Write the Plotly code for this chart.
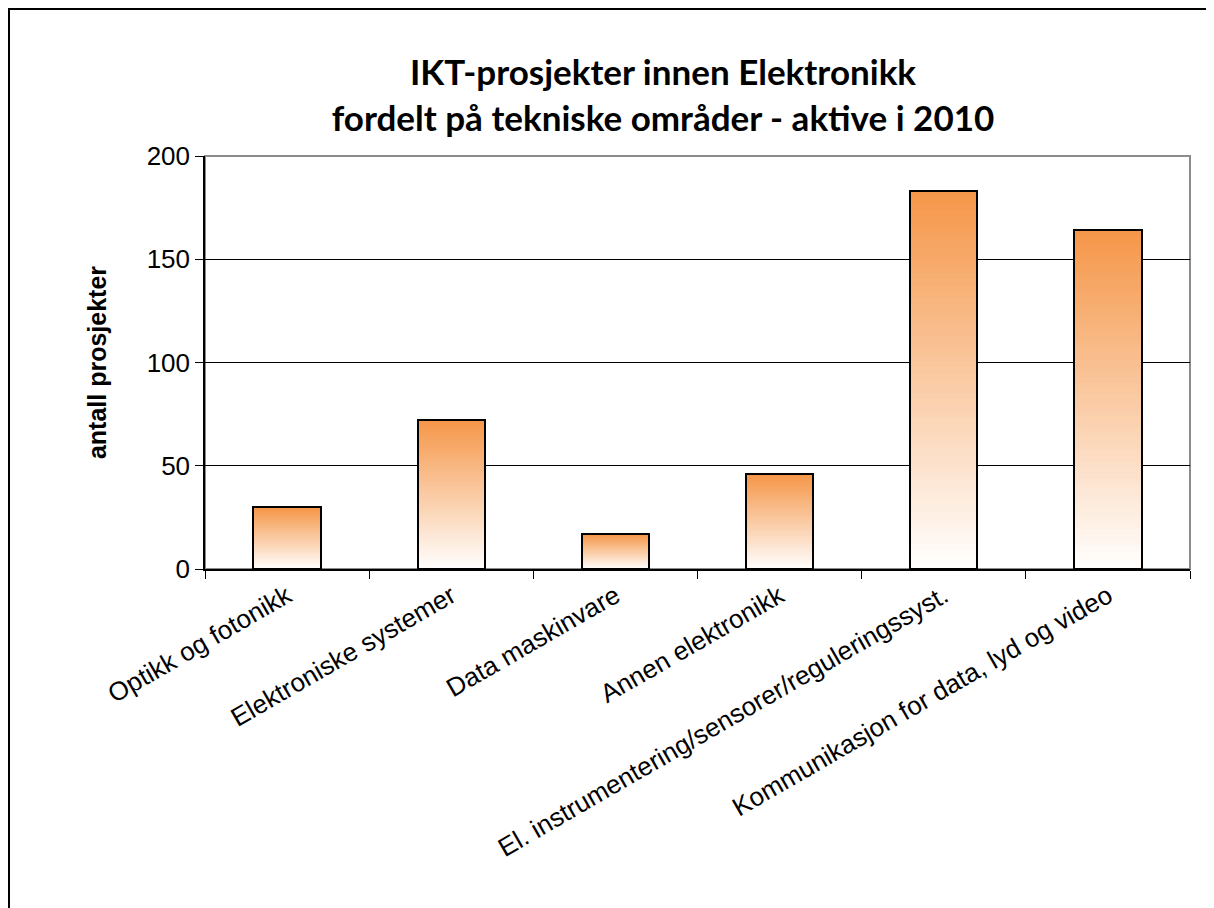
import plotly.graph_objects as go

categories = [
    "Optikk og fotonikk",
    "Elektroniske systemer",
    "Data maskinvare",
    "Annen elektronikk",
    "El. instrumentering/sensorer/reguleringssyst.",
    "Kommunikasjon for data, lyd og video",
]
values = [30, 72, 17, 46, 183, 164]
y_ticks = [0, 50, 100, 150, 200]

title_text = "IKT-prosjekter innen Elektronikk<br>fordelt på tekniske områder - aktive i 2010"
y_title = "antall prosjekter"

top_rgb = (245, 150, 72)
bottom_rgb = (255, 255, 255)
N = 60
BAR_W = 0.41

fig = go.Figure()
for k in range(N):
    f = (k + 0.5) / N
    c = tuple(round(bottom_rgb[i] + (top_rgb[i] - bottom_rgb[i]) * f) for i in range(3))
    fig.add_trace(go.Bar(
        x=categories,
        y=[v / N for v in values],
        base=[v * k / N for v in values],
        width=BAR_W,
        marker=dict(color="rgb(%d,%d,%d)" % c, line=dict(width=0)),
        hoverinfo="skip",
        showlegend=False,
    ))

fig.add_trace(go.Bar(
    x=categories,
    y=values,
    width=BAR_W,
    marker=dict(color="rgba(0,0,0,0)", line=dict(color="black", width=2)),
    showlegend=False,
))

L, T = 197, 148
PW, PH = 985, 413

fig.update_layout(
    width=1214,
    height=908,
    barmode="overlay",
    bargap=0,
    paper_bgcolor="white",
    plot_bgcolor="white",
    margin=dict(l=L, r=1214 - L - PW, t=T, b=908 - T - PH),
    title=dict(
        text=title_text,
        x=0.465,
        xref="paper",
        xanchor="center",
        y=0.915,
        yref="container",
        yanchor="top",
        font=dict(family="Lato", size=35, color="black", weight="bold"),
    ),
    font=dict(family="Liberation Sans, Arial", size=26, color="black"),
    xaxis=dict(
        type="category",
        tickangle=-30,
        tickson="boundaries",
        ticks="outside",
        ticklen=8,
        tickcolor="black",
        showline=True,
        linecolor="black",
        linewidth=1.5,
        showgrid=False,
        tickfont=dict(family="Liberation Sans, Arial", size=26, color="black"),
    ),
    yaxis=dict(
        range=[0, 200],
        tickvals=y_ticks,
        ticks="outside",
        ticklen=8,
        tickcolor="black",
        showline=True,
        linecolor="black",
        linewidth=1.5,
        showgrid=True,
        gridcolor="black",
        gridwidth=1,
        zeroline=False,
        tickfont=dict(family="Liberation Sans, Arial", size=26, color="black"),
        title=dict(
            text=y_title,
            standoff=33,
            font=dict(family="Liberation Sans, Arial", size=25, color="black", weight="bold"),
        ),
    ),
    shapes=[
        dict(type="rect", xref="paper", yref="paper", x0=0, x1=1, y0=0, y1=1,
             line=dict(color="#8c8c8c", width=2), layer="below"),
        dict(type="rect", xref="paper", yref="paper",
             x0=(1 - L) / PW, x1=(1240 - L) / PW,
             y0=(T + PH - 940) / PH, y1=(T + PH - 1) / PH,
             line=dict(color="black", width=2), layer="above"),
    ],
)

fig.write_html("out.html")
